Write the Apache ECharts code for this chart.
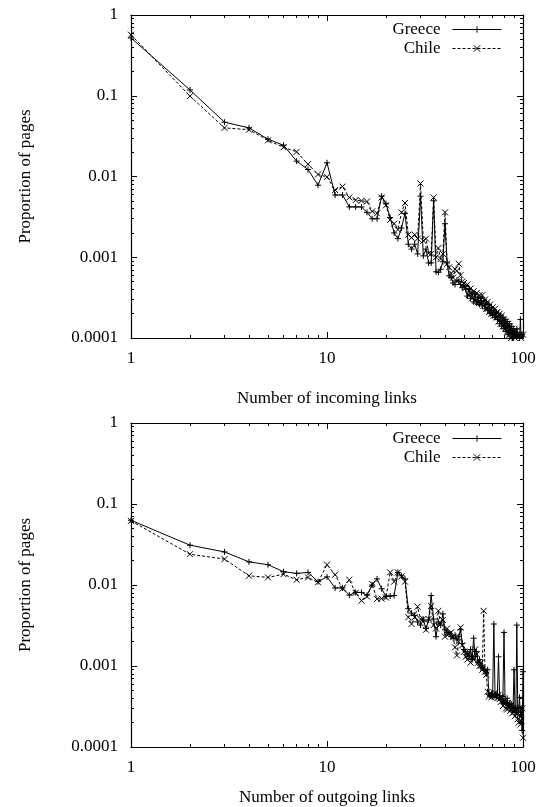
<!DOCTYPE html>
<html>
<head>
<meta charset="utf-8">
<script src="https://cdn.jsdelivr.net/npm/echarts@6/dist/echarts.min.js"></script>
<style>html,body{margin:0;padding:0;background:#fff}#main{width:549px;height:807px}</style>
</head>
<body>
<div id="main"></div>
<script>
// number of links (x), 1..100
var links = [];
for (var i = 1; i <= 100; i++) links.push(i);

// proportion of pages, incoming links
var greeceIn = [
    0.52, 0.118, 0.047, 0.040, 0.029, 0.0244, 0.0155, 0.0122, 0.0078, 0.0148,
    0.0059, 0.0059, 0.0042, 0.0042, 0.0042, 0.0036, 0.0030, 0.0030, 0.0057, 0.0046,
    0.0031, 0.0020, 0.0017, 0.0023, 0.0035, 0.00145, 0.00126, 0.00145, 0.0011, 0.0057,
    0.00104, 0.00126, 0.00085, 0.00085, 0.0050, 0.00066, 0.00065, 0.00071, 0.00088, 0.0026,
    0.00085, 0.00059, 0.00056, 0.00048, 0.00046, 0.00052, 0.00050, 0.00046, 0.00042, 0.00045,
    0.00040, 0.00033, 0.00041, 0.00031, 0.00037, 0.00028, 0.00035, 0.00027, 0.00032, 0.00026,
    0.00031, 0.00025, 0.00029, 0.00023, 0.00028, 0.00022, 0.00026, 0.00020, 0.00024, 0.00019,
    0.00022, 0.00018, 0.00021, 0.00017, 0.00020, 0.00015, 0.00019, 0.00014, 0.00018, 0.00013,
    0.00017, 0.00012, 0.00016, 0.00011, 0.00015, 0.00011, 0.00014, 0.00010, 0.00013, 0.00011,
    0.00012, 0.000095, 0.00013, 0.00009, 0.00011, 0.00010, 0.00017, 0.000088, 0.00011, 0.000095
];
var chileIn = [
    0.57, 0.099, 0.040, 0.038, 0.028, 0.023, 0.0202, 0.0142, 0.0106, 0.0099,
    0.0068, 0.0075, 0.0055, 0.0051, 0.0050, 0.0049, 0.0037, 0.0035, 0.0055, 0.0044,
    0.0029, 0.0026, 0.0022, 0.0036, 0.0047, 0.0019, 0.00175, 0.0019, 0.0017, 0.0082,
    0.0016, 0.0017, 0.00112, 0.0011, 0.0055, 0.0010, 0.0013, 0.00095, 0.0011, 0.0036,
    0.00083, 0.00075, 0.00063, 0.00056, 0.00071, 0.00068, 0.00083, 0.00060, 0.00050, 0.00048,
    0.00042, 0.00046, 0.00034, 0.00041, 0.00031, 0.00038, 0.00029, 0.00036, 0.00028, 0.00034,
    0.00027, 0.00034, 0.00025, 0.00030, 0.00023, 0.00028, 0.00021, 0.00026, 0.00020, 0.00024,
    0.00019, 0.00023, 0.00018, 0.00021, 0.00016, 0.00020, 0.00015, 0.00019, 0.00014, 0.00017,
    0.00013, 0.00016, 0.00012, 0.00015, 0.00011, 0.00014, 0.00010, 0.00013, 0.000098, 0.00012,
    0.00010, 0.00012, 0.000092, 0.00011, 0.000098, 0.00011, 0.00009, 0.00010, 0.000094, 0.00011
];
// proportion of pages, outgoing links
var greeceOut = [
    0.063, 0.031, 0.0256, 0.0193, 0.0178, 0.0146, 0.0139, 0.0143, 0.0110, 0.0126,
    0.0092, 0.0092, 0.0075, 0.0081, 0.0081, 0.0075, 0.0100, 0.0119, 0.0090, 0.0072,
    0.0073, 0.0074, 0.0143, 0.0130, 0.0119, 0.0051, 0.0045, 0.0042, 0.0035, 0.0032,
    0.0037, 0.0029, 0.0037, 0.0074, 0.0038, 0.0023, 0.0035, 0.0032, 0.0044, 0.0028,
    0.0026, 0.0025, 0.0023, 0.0022, 0.0024, 0.0021, 0.0023, 0.0028, 0.0019, 0.0016,
    0.0015, 0.0014, 0.0013, 0.0016, 0.0012, 0.0022, 0.0013, 0.0015, 0.0011, 0.0012,
    0.00095, 0.0010, 0.00092, 0.00088, 0.00080, 0.00090, 0.00045, 0.00043, 0.00046, 0.00042,
    0.0033, 0.00044, 0.00041, 0.00045, 0.0013, 0.00043, 0.00040, 0.00038, 0.00042, 0.0026,
    0.00036, 0.00034, 0.00040, 0.00033, 0.00035, 0.00031, 0.00034, 0.00030, 0.00032, 0.00090,
    0.00030, 0.00028, 0.0032, 0.00031, 0.00027, 0.00041, 0.00025, 0.00030, 0.00016, 0.00085
];
var chileOut = [
    0.062, 0.024, 0.0209, 0.0130, 0.0124, 0.0136, 0.0116, 0.0124, 0.0108, 0.0178,
    0.0134, 0.0090, 0.0116, 0.0080, 0.0064, 0.0072, 0.0103, 0.0067, 0.0068, 0.0070,
    0.0143, 0.0110, 0.0143, 0.0128, 0.0110, 0.0040, 0.0033, 0.0040, 0.0054, 0.0038,
    0.0038, 0.0028, 0.0038, 0.0055, 0.0032, 0.0029, 0.0048, 0.0033, 0.0037, 0.0023,
    0.0029, 0.0025, 0.0026, 0.0023, 0.0017, 0.00135, 0.0020, 0.0030, 0.0018, 0.0015,
    0.0013, 0.0012, 0.0015, 0.0011, 0.0013, 0.0012, 0.0016, 0.0014, 0.0011, 0.0010,
    0.0011, 0.00090, 0.0048, 0.00085, 0.00078, 0.00048, 0.00042, 0.00045, 0.00041, 0.00044,
    0.00043, 0.00047, 0.00042, 0.00040, 0.00044, 0.00039, 0.00036, 0.00041, 0.00032, 0.00037,
    0.00034, 0.00030, 0.00029, 0.00035, 0.00031, 0.00028, 0.00033, 0.00026, 0.00030, 0.00027,
    0.00024, 0.00029, 0.00026, 0.00022, 0.00020, 0.00025, 0.00019, 0.00021, 0.00030, 0.00013
];

// tick positions (gnuplot style: majors at decades, minors at 2..9)
var xMajor = [1, 10, 100];
var xMinor = [2, 3, 4, 5, 6, 7, 8, 9, 20, 30, 40, 50, 60, 70, 80, 90];
var yMajor = [0.0001, 0.001, 0.01, 0.1, 1];
var yMinor = [0.0002, 0.0003, 0.0004, 0.0005, 0.0006, 0.0007, 0.0008, 0.0009,
    0.002, 0.003, 0.004, 0.005, 0.006, 0.007, 0.008, 0.009,
    0.02, 0.03, 0.04, 0.05, 0.06, 0.07, 0.08, 0.09,
    0.2, 0.3, 0.4, 0.5, 0.6, 0.7, 0.8, 0.9];
var xNames = ['Number of incoming links', 'Number of outgoing links'];

var FONT = 'Liberation Serif';
var plusSym = 'path://M0,5L10,5M5,0L5,10';
var crossSym = 'path://M0,0L10,10M0,10L10,0';

function fmt(v){
    return String(Number(v.toPrecision(2)));
}
function pairs(ys){
    return links.map(function(x, i){ return [x, ys[i]]; });
}
// decorative axis carrying only tick marks, in log10 space
function tickAxis(grid, pos, vals, len, range, line){
    return {
        type: 'value', gridIndex: grid, position: pos, min: range[0], max: range[1],
        axisLine: {show: !!line, onZero: false, lineStyle: {color: '#000', width: 1.2}},
        splitLine: {show: false}, axisLabel: {show: false},
        axisTick: {show: true, inside: true, length: len,
            customValues: vals.map(function(v){ return Math.log10(v); }),
            lineStyle: {color: '#000', width: 1}}
    };
}

// grids 0,1 hold the data; grids 2,3 sit on top of them and only carry minor ticks
var panelRects = [
    {left: 131, right: 26, top: 15, height: 323},
    {left: 131, right: 26, top: 423, height: 324}
];
var grids = [panelRects[0], panelRects[1], panelRects[0], panelRects[1]];
var nameGaps = [52, 42];
var xAxes = [], yAxes = [];
for (var g = 0; g < 2; g++) {
    xAxes.push({
        type: 'log', logBase: 10, gridIndex: g, position: 'bottom', min: 1, max: 100, interval: 1,
        name: xNames[g], nameLocation: 'middle', nameGap: nameGaps[g],
        nameTextStyle: {fontFamily: FONT, fontSize: 17, color: '#000'},
        axisLine: {show: true, onZero: false, lineStyle: {color: '#000', width: 1.2}},
        axisTick: {show: true, inside: true, length: 6, lineStyle: {color: '#000'}},
        axisLabel: {fontFamily: FONT, fontSize: 17, color: '#000', margin: 12, formatter: fmt},
        splitLine: {show: false}
    });
    xAxes.push(tickAxis(g, 'top', xMajor, 6, [0, 2], true));
    xAxes.push(tickAxis(g + 2, 'bottom', xMinor, 3, [0, 2], false));
    xAxes.push(tickAxis(g + 2, 'top', xMinor, 3, [0, 2], false));

    yAxes.push({
        type: 'log', logBase: 10, gridIndex: g, position: 'left', min: 0.0001, max: 1, interval: 1,
        name: 'Proportion of pages', nameLocation: 'middle', nameGap: 97, nameRotate: 90,
        nameTextStyle: {fontFamily: FONT, fontSize: 17, color: '#000'},
        axisLine: {show: true, onZero: false, lineStyle: {color: '#000', width: 1.2}},
        axisTick: {show: true, inside: true, length: 6, lineStyle: {color: '#000'}},
        axisLabel: {fontFamily: FONT, fontSize: 17, color: '#000', margin: 13, formatter: fmt},
        splitLine: {show: false}
    });
    yAxes.push(tickAxis(g, 'right', yMajor, 6, [-4, 0], true));
    yAxes.push(tickAxis(g + 2, 'left', yMinor, 3, [-4, 0], false));
    yAxes.push(tickAxis(g + 2, 'right', yMinor, 3, [-4, 0], false));
}

function lineSeries(name, ys, g, dashed){
    return {
        name: name, type: 'line', xAxisIndex: g * 4, yAxisIndex: g * 4,
        data: pairs(ys),
        symbol: dashed ? crossSym : plusSym, symbolSize: 6,
        itemStyle: {color: '#000', borderColor: '#000', borderWidth: 1},
        lineStyle: {color: '#000', width: 1, type: dashed ? [3, 2] : 'solid'},
        emphasis: {disabled: true}
    };
}

function legendAt(name, top){
    return {
        data: [name], right: 47, top: top, orient: 'vertical', align: 'right', padding: 0,
        itemWidth: 49, itemHeight: 8, selectedMode: false,
        itemStyle: {color: '#000', borderColor: '#000', borderWidth: 1},
        lineStyle: {width: 1},
        textStyle: {fontFamily: FONT, fontSize: 17, color: '#000', padding: [0, 7, 0, 0]}
    };
}

var myChart = echarts.init(document.getElementById('main'), null, {renderer: 'canvas'});
myChart.setOption({
    backgroundColor: '#fff',
    animation: false,
    grid: grids,
    xAxis: xAxes,
    yAxis: yAxes,
    legend: [legendAt('Greece', 21), legendAt('Chile', 40), legendAt('Greece', 430), legendAt('Chile', 449)],
    series: [
        lineSeries('Greece', greeceIn, 0, false),
        lineSeries('Chile', chileIn, 0, true),
        lineSeries('Greece', greeceOut, 1, false),
        lineSeries('Chile', chileOut, 1, true)
    ]
});
</script>
</body>
</html>
